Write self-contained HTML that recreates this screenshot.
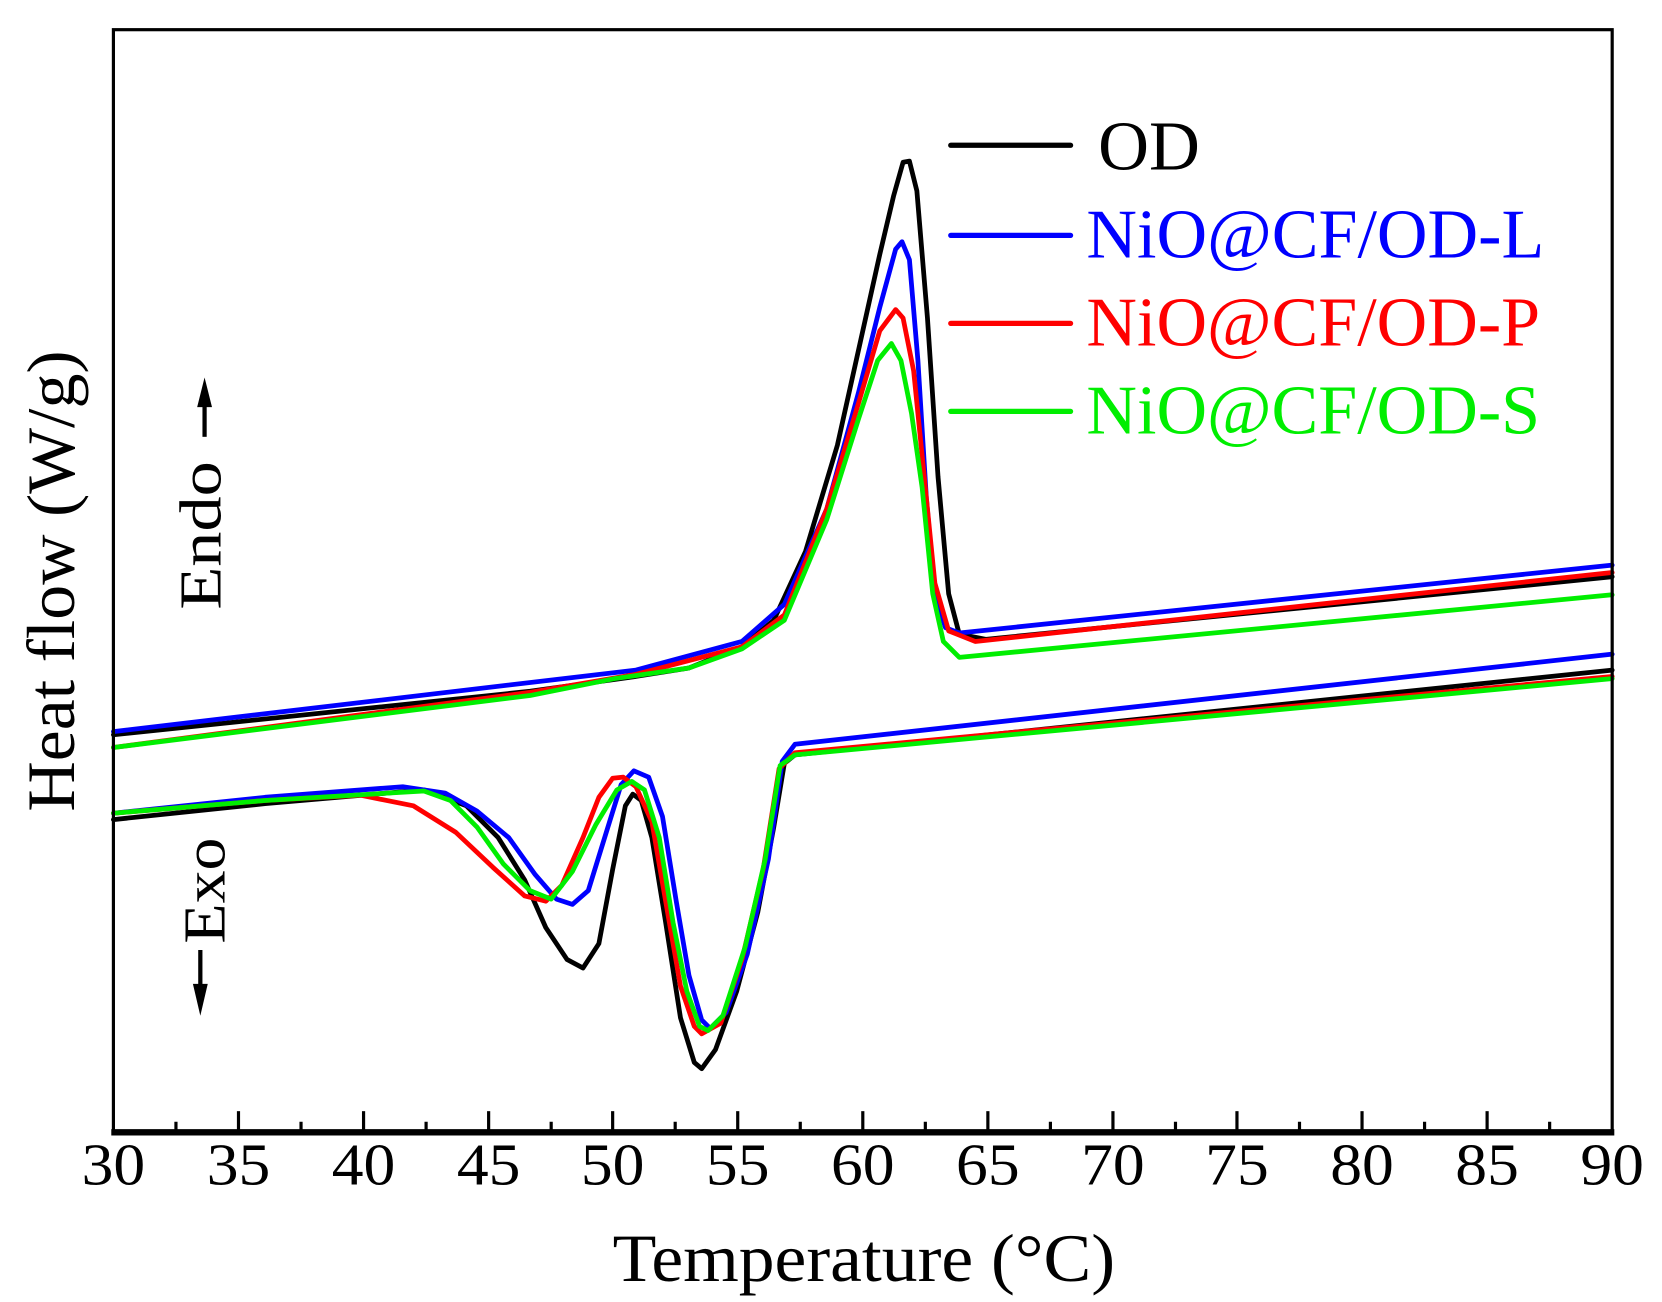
<!DOCTYPE html>
<html><head><meta charset="utf-8"><style>html,body{margin:0;padding:0;background:#fff}svg{display:block}svg text{font-family:"Liberation Serif","Times New Roman",serif}</style></head>
<body>
<svg width="1662" height="1302" viewBox="0 0 1568 1228" preserveAspectRatio="none" xmlns="http://www.w3.org/2000/svg">
<rect x="0" y="0" width="1568" height="1228" fill="#fff"/>
<g fill="none" stroke-width="4.5" stroke-linejoin="round" stroke-linecap="round">
<polyline stroke="#000" points="107,693 500,652 600,638 650,630 700,610 730,585 760,520 790,420 810,330 830,240 843,185 852,153 858,152 865,180 875,300 885,450 895,560 905,598 930,603 1521,544"/>
<polyline stroke="#0000ff" points="107,690 600,632 700,605 740,570 780,480 810,370 830,290 845,235 851,228 858,245 866,340 874,470 882,560 892,592 905,597 1521,533"/>
<polyline stroke="#ff0000" points="107,705 500,653 600,636 700,610 740,580 780,480 810,380 830,312 845,292 852,300 862,350 872,450 882,550 895,595 920,605 1521,540"/>
<polyline stroke="#00ee00" points="107,705 500,656 580,640 650,630 700,612 740,585 780,490 810,395 828,340 841,324 850,340 860,390 870,460 880,560 890,605 905,620 1521,561"/>
<polyline stroke="#000" points="107,773 250,758 400,745 440,760 470,790 495,830 515,875 535,905 550,913 565,890 578,820 590,760 597,749 605,755 615,790 628,870 642,960 655,1002 662,1008 675,990 695,935 715,860 730,780 740,720 750,712 1521,632"/>
<polyline stroke="#0000ff" points="107,767 250,752 380,742 420,748 450,765 480,790 505,825 525,848 540,853 555,840 572,785 586,740 598,727 612,733 625,770 638,850 650,920 662,962 670,970 685,955 705,900 725,810 738,718 750,702 1521,617"/>
<polyline stroke="#ff0000" points="107,767 250,755 340,750 390,760 430,785 465,818 495,845 515,850 530,835 550,790 565,752 578,734 588,733 600,742 615,775 628,850 642,930 655,968 662,975 680,965 700,905 720,820 735,725 750,710 1521,638"/>
<polyline stroke="#00ee00" points="107,767 250,755 400,746 425,755 450,780 475,815 500,840 520,848 540,822 562,778 582,745 596,737 608,745 622,790 635,870 648,935 660,968 668,972 682,958 703,893 722,810 736,722 750,712 1521,640"/>
</g>
<rect x="107" y="28" width="1414" height="1040" fill="none" stroke="#000" stroke-width="3"/>
<line x1="105" y1="1068" x2="1523" y2="1068" stroke="#000" stroke-width="6"/>
<g stroke="#000" stroke-width="3">
<line x1="225" y1="1068" x2="225" y2="1048"/><line x1="343" y1="1068" x2="343" y2="1048"/><line x1="461" y1="1068" x2="461" y2="1048"/><line x1="578" y1="1068" x2="578" y2="1048"/><line x1="696" y1="1068" x2="696" y2="1048"/><line x1="814" y1="1068" x2="814" y2="1048"/><line x1="932" y1="1068" x2="932" y2="1048"/><line x1="1050" y1="1068" x2="1050" y2="1048"/><line x1="1167" y1="1068" x2="1167" y2="1048"/><line x1="1285" y1="1068" x2="1285" y2="1048"/><line x1="1403" y1="1068" x2="1403" y2="1048"/>
<line x1="166" y1="1068" x2="166" y2="1058"/><line x1="284" y1="1068" x2="284" y2="1058"/><line x1="402" y1="1068" x2="402" y2="1058"/><line x1="520" y1="1068" x2="520" y2="1058"/><line x1="637" y1="1068" x2="637" y2="1058"/><line x1="755" y1="1068" x2="755" y2="1058"/><line x1="873" y1="1068" x2="873" y2="1058"/><line x1="991" y1="1068" x2="991" y2="1058"/><line x1="1109" y1="1068" x2="1109" y2="1058"/><line x1="1226" y1="1068" x2="1226" y2="1058"/><line x1="1344" y1="1068" x2="1344" y2="1058"/><line x1="1462" y1="1068" x2="1462" y2="1058"/>
</g>
<g font-size="56" text-anchor="middle" fill="#000">
<text x="107" y="1117" textLength="60" lengthAdjust="spacingAndGlyphs">30</text>
<text x="225" y="1117" textLength="60" lengthAdjust="spacingAndGlyphs">35</text>
<text x="343" y="1117" textLength="60" lengthAdjust="spacingAndGlyphs">40</text>
<text x="461" y="1117" textLength="60" lengthAdjust="spacingAndGlyphs">45</text>
<text x="578" y="1117" textLength="60" lengthAdjust="spacingAndGlyphs">50</text>
<text x="696" y="1117" textLength="60" lengthAdjust="spacingAndGlyphs">55</text>
<text x="814" y="1117" textLength="60" lengthAdjust="spacingAndGlyphs">60</text>
<text x="932" y="1117" textLength="60" lengthAdjust="spacingAndGlyphs">65</text>
<text x="1050" y="1117" textLength="60" lengthAdjust="spacingAndGlyphs">70</text>
<text x="1167" y="1117" textLength="60" lengthAdjust="spacingAndGlyphs">75</text>
<text x="1285" y="1117" textLength="60" lengthAdjust="spacingAndGlyphs">80</text>
<text x="1403" y="1117" textLength="60" lengthAdjust="spacingAndGlyphs">85</text>
<text x="1521" y="1117" textLength="60" lengthAdjust="spacingAndGlyphs">90</text>
</g>
<text x="815" y="1208" font-size="64" text-anchor="middle" textLength="474" lengthAdjust="spacingAndGlyphs">Temperature (°C)</text>
<text transform="translate(70,548) rotate(-90)" font-size="64" text-anchor="middle" textLength="435" lengthAdjust="spacingAndGlyphs">Heat flow (W/g)</text>
<text transform="translate(208,505) rotate(-90)" font-size="56" text-anchor="middle" textLength="140" lengthAdjust="spacingAndGlyphs">Endo</text>
<line x1="193" y1="412" x2="193" y2="382" stroke="#000" stroke-width="4"/>
<polygon points="186,384 200,384 193,356" fill="#000"/>
<text transform="translate(212,840) rotate(-90)" font-size="56" text-anchor="middle" textLength="100" lengthAdjust="spacingAndGlyphs">Exo</text>
<line x1="189" y1="896" x2="189" y2="930" stroke="#000" stroke-width="4"/>
<polygon points="182,928 196,928 189,958" fill="#000"/>
<g stroke-width="5" stroke-linecap="round">
<line x1="897" y1="137" x2="1010" y2="137" stroke="#000"/>
<line x1="897" y1="222" x2="1010" y2="222" stroke="#0000ff"/>
<line x1="897" y1="305" x2="1010" y2="305" stroke="#ff0000"/>
<line x1="897" y1="388" x2="1010" y2="388" stroke="#00ee00"/>
</g>
<g font-size="66">
<text x="1036" y="160" fill="#000" textLength="96" lengthAdjust="spacingAndGlyphs">OD</text>
<text x="1025" y="243" fill="#0000ff" textLength="432" lengthAdjust="spacingAndGlyphs">NiO@CF/OD-L</text>
<text x="1025" y="326" fill="#ff0000" textLength="428" lengthAdjust="spacingAndGlyphs">NiO@CF/OD-P</text>
<text x="1025" y="409" fill="#00ee00" textLength="428" lengthAdjust="spacingAndGlyphs">NiO@CF/OD-S</text>
</g>
</svg>
</body></html>
